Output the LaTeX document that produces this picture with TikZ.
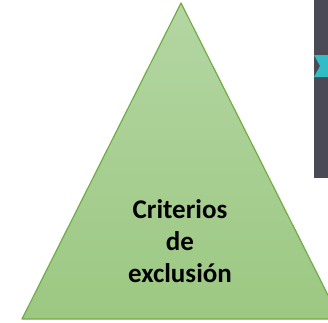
\documentclass[tikz,border=0pt]{standalone}
\usepackage{fontspec}
\setmainfont{Carlito}
\usepackage{tikz}
\usetikzlibrary{calc}
\definecolor{hojaVerde}{HTML}{70AD47}
\definecolor{verdeClaro}{HTML}{B4D6A3}
\definecolor{verdeFondo}{HTML}{9CC882}
\definecolor{pizarra}{HTML}{4A4A56}
\definecolor{turquesa}{HTML}{31BCC6}
\begin{document}
\begin{tikzpicture}[x=1pt,y=-1pt]
\useasboundingbox (0,0) rectangle (328,322);
\begin{scope}
\clip (0,0) rectangle (328,322);
% triangulo
\coordinate (cima) at (181,3);
\coordinate (izq) at (22,319);
\coordinate (der) at (340,319);
\shade[top color=verdeClaro,bottom color=verdeFondo,draw=hojaVerde,line width=1.2pt,line join=round]
  (cima) -- (der) -- (izq) -- cycle;
% panel oscuro
\fill[pizarra] (314,0) rectangle (330,178);
\fill[turquesa] (314,55) -- (330,55) -- (330,77) -- (314,77) -- (320,66) -- cycle;
\end{scope}
\node[font=\bfseries\fontsize{27}{32}\selectfont,align=center] (texto) at (180,241)
  {Criterios\\de\\exclusión};
\end{tikzpicture}
\end{document}
